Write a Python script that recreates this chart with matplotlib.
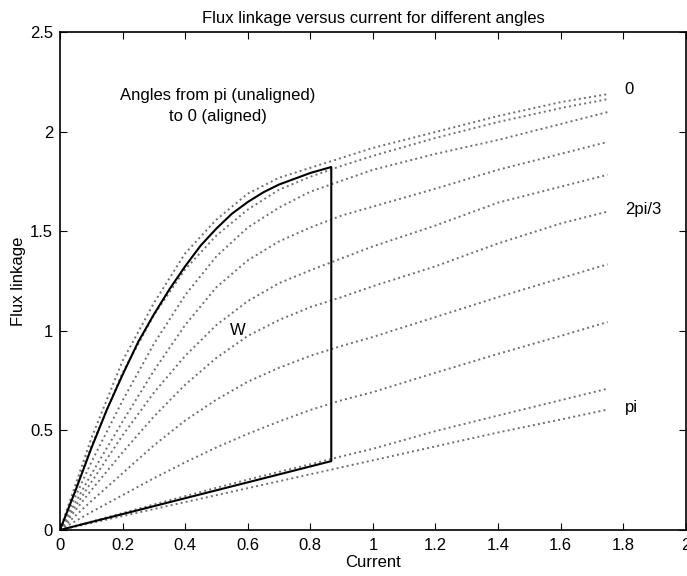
import matplotlib.pyplot as plt
from matplotlib.ticker import FormatStrFormatter

plt.rcParams['font.family'] = ['Liberation Sans', 'DejaVu Sans']

# current values where the curves were read
current = [0, 0.1, 0.2, 0.3, 0.4, 0.5, 0.6, 0.7, 0.8, 0.9, 1.0, 1.2, 1.4, 1.6, 1.75]

# flux linkage curves, aligned (0) at the top down to unaligned (pi)
flux_curves = [
    [0, 0.46, 0.85, 1.14, 1.39, 1.56, 1.69, 1.77, 1.82, 1.87, 1.92, 2.00, 2.08, 2.15, 2.19],
    [0, 0.42, 0.79, 1.08, 1.31, 1.48, 1.61, 1.71, 1.775, 1.83, 1.88, 1.97, 2.05, 2.12, 2.165],
    [0, 0.34, 0.65, 0.935, 1.18, 1.375, 1.52, 1.62, 1.70, 1.755, 1.81, 1.89, 1.96, 2.04, 2.10],
    [0, 0.28, 0.545, 0.80, 1.03, 1.22, 1.355, 1.45, 1.52, 1.58, 1.625, 1.715, 1.81, 1.89, 1.95],
    [0, 0.24, 0.475, 0.69, 0.875, 1.03, 1.15, 1.24, 1.305, 1.365, 1.425, 1.53, 1.645, 1.725, 1.785],
    [0, 0.20, 0.39, 0.57, 0.73, 0.865, 0.975, 1.055, 1.12, 1.17, 1.225, 1.325, 1.44, 1.54, 1.60],
    [0, 0.145, 0.285, 0.425, 0.55, 0.655, 0.745, 0.815, 0.875, 0.925, 0.97, 1.07, 1.17, 1.265, 1.335],
    [0, 0.09, 0.175, 0.26, 0.34, 0.415, 0.483, 0.545, 0.603, 0.652, 0.693, 0.79, 0.885, 0.975, 1.045],
    [0, 0.042, 0.085, 0.128, 0.17, 0.212, 0.253, 0.292, 0.33, 0.37, 0.408, 0.497, 0.575, 0.652, 0.71],
    [0, 0.035, 0.07, 0.105, 0.14, 0.175, 0.21, 0.245, 0.28, 0.315, 0.35, 0.42, 0.49, 0.555, 0.605],
]

# closed energy loop W
loop_i = [0, 0.05, 0.1, 0.15, 0.2, 0.25, 0.3, 0.35, 0.4, 0.45, 0.5, 0.55,
          0.6, 0.65, 0.7, 0.75, 0.8, 0.867, 0.867, 0]
loop_flux = [0, 0.2, 0.41, 0.605, 0.78, 0.945, 1.083, 1.21, 1.325, 1.43, 1.515, 1.59,
             1.648, 1.697, 1.736, 1.765, 1.794, 1.824, 0.346, 0]

angle_labels = ['0', '2pi/3', 'pi']
angle_label_pos = [(1.805, 2.215), (1.805, 1.61), (1.805, 0.615)]

fig = plt.figure(figsize=(6.87, 5.76), dpi=100)
ax = fig.add_axes([0.0873, 0.0799, 0.911, 0.8637])

for flux in flux_curves:
    ax.plot(current, flux, linestyle=':', color='#707070', linewidth=1.4)

ax.plot(loop_i, loop_flux, color='black', linewidth=1.5)

for lab, (x, y) in zip(angle_labels, angle_label_pos):
    ax.text(x, y, lab, fontsize=12, va='center', ha='left')

ax.text(0.505, 2.13, 'Angles from pi (unaligned)\nto 0 (aligned)', fontsize=12,
        ha='center', va='center', linespacing=1.5)
ax.text(0.569, 1.0, 'W', fontsize=12, ha='center', va='center')

ax.set_xlim(0, 2)
ax.set_ylim(0, 2.5)
ax.set_xticks([0, 0.2, 0.4, 0.6, 0.8, 1, 1.2, 1.4, 1.6, 1.8, 2])
ax.set_yticks([0, 0.5, 1, 1.5, 2, 2.5])
ax.xaxis.set_major_formatter(FormatStrFormatter('%g'))
ax.yaxis.set_major_formatter(FormatStrFormatter('%g'))
ax.tick_params(direction='in', top=True, right=True, labelsize=12, length=5)
ax.tick_params(axis='x', pad=6)
ax.tick_params(axis='y', pad=5)
for s in ax.spines.values():
    s.set_linewidth(1.2)

ax.set_title('Flux linkage versus current for different angles', fontsize=12, pad=7)
ax.set_xlabel('Current', fontsize=12, labelpad=1)
ax.set_ylabel('Flux linkage', fontsize=12, labelpad=3)

plt.savefig('out.png', dpi=100)
